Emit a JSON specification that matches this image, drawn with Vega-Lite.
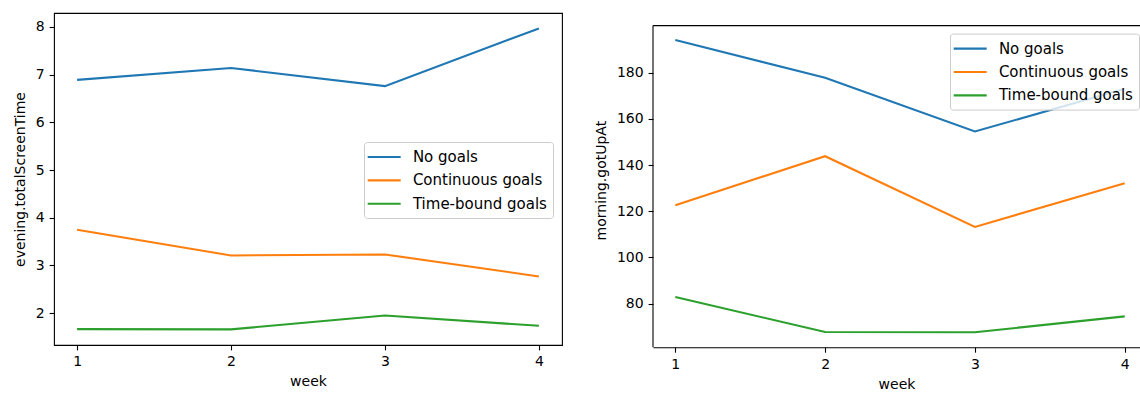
{
  "$schema": "https://vega.github.io/schema/vega-lite/v6.json",
  "padding": {"left": 12, "top": 12, "right": 0, "bottom": 0},
  "background": "white",
  "config": {
    "font": "DejaVu Sans",
    "axis": {
      "labelFont": "DejaVu Sans", "labelFontSize": 14, "labelColor": "#000",
      "titleFont": "DejaVu Sans", "titleFontSize": 14, "titleFontWeight": "normal", "titleColor": "#000",
      "tickColor": "#000", "tickWidth": 1.1, "tickSize": 4.9, "labelPadding": 4.9,
      "domainColor": "#000", "domainWidth": 1.1, "grid": false
    },
    "view": {"stroke": "#000", "strokeWidth": 1.1},
    "legend": {
      "title": null,
      "symbolType": "M-1.37,0H2.63",
      "symbolSize": 272,
      "symbolStrokeWidth": 2.1,
      "labelFont": "DejaVu Sans", "labelFontSize": 15, "labelColor": "#000",
      "labelOffset": 24.4, "rowPadding": 5.4, "padding": 5.5,
      "fillColor": "rgba(255,255,255,0.8)", "strokeColor": "#cccccc", "cornerRadius": 3
    }
  },
  "datasets": {
    "weekly": [
      {"week": 1, "group": "No goals", "screenTime": 6.89, "gotUpAt": 194.1},
      {"week": 2, "group": "No goals", "screenTime": 7.14, "gotUpAt": 177.8},
      {"week": 3, "group": "No goals", "screenTime": 6.76, "gotUpAt": 154.5},
      {"week": 4, "group": "No goals", "screenTime": 7.97, "gotUpAt": 173.0},
      {"week": 1, "group": "Continuous goals", "screenTime": 3.75, "gotUpAt": 122.6},
      {"week": 2, "group": "Continuous goals", "screenTime": 3.21, "gotUpAt": 143.8},
      {"week": 3, "group": "Continuous goals", "screenTime": 3.23, "gotUpAt": 113.2},
      {"week": 4, "group": "Continuous goals", "screenTime": 2.77, "gotUpAt": 132.1},
      {"week": 1, "group": "Time-bound goals", "screenTime": 1.665, "gotUpAt": 82.9},
      {"week": 2, "group": "Time-bound goals", "screenTime": 1.66, "gotUpAt": 67.7},
      {"week": 3, "group": "Time-bound goals", "screenTime": 1.95, "gotUpAt": 67.6},
      {"week": 4, "group": "Time-bound goals", "screenTime": 1.735, "gotUpAt": 74.5}
    ]
  },
  "spacing": 31,
  "resolve": {"scale": {"color": "independent"}, "legend": {"color": "independent"}},
  "hconcat": [
    {
      "width": 508,
      "height": 332,
      "data": {"name": "weekly"},
      "mark": {"type": "line", "strokeWidth": 2.1},
      "encoding": {
        "x": {
          "field": "week", "type": "quantitative",
          "scale": {"domain": [0.85, 4.15], "nice": false, "zero": false},
          "axis": {"values": [1, 2, 3, 4], "format": "d", "title": "week", "titlePadding": 6, "domain": false}
        },
        "y": {
          "field": "screenTime", "type": "quantitative",
          "scale": {"domain": [1.332, 8.293], "nice": false, "zero": false},
          "axis": {"values": [2, 3, 4, 5, 6, 7, 8], "title": "evening.totalScreenTime", "titlePadding": 8, "domain": false}
        },
        "color": {
          "field": "group", "type": "nominal",
          "scale": {"domain": ["No goals", "Continuous goals", "Time-bound goals"], "range": ["#1f77b4", "#ff7f0e", "#2ca02c"]},
          "legend": {"orient": "none", "legendX": 310, "legendY": 129}
        }
      }
    },
    {
      "width": 487,
      "height": 334.3,
      "view": {"stroke": null},
      "layer": [
        {
          "data": {"name": "weekly"},
          "mark": {"type": "line", "strokeWidth": 2.1},
          "encoding": {
            "x": {
              "field": "week", "type": "quantitative",
              "scale": {"domain": [0.851, 4.102], "nice": false, "zero": false},
              "axis": {"values": [1, 2, 3, 4], "format": "d", "title": "week", "titlePadding": 6}
            },
            "y": {
              "field": "gotUpAt", "type": "quantitative",
              "scale": {"domain": [61.1, 205.8], "nice": false, "zero": false},
              "axis": {"values": [80, 100, 120, 140, 160, 180], "title": "morning.gotUpAt", "titlePadding": 8, "domain": false}
            },
            "color": {
              "field": "group", "type": "nominal",
              "scale": {"domain": ["No goals", "Continuous goals", "Time-bound goals"], "range": ["#1f77b4", "#ff7f0e", "#2ca02c"]},
              "legend": {"orient": "none", "legendX": 297, "legendY": 20.6}
            }
          }
        },
        {
          "description": "left spine of the axes box",
          "data": {"values": [{}]},
          "mark": {"type": "rule", "color": "#000", "strokeWidth": 1.1},
          "encoding": {
            "x": {"datum": 0.851, "type": "quantitative"},
            "y": {"datum": 61.1, "type": "quantitative"},
            "y2": {"datum": 200.35}
          }
        },
        {
          "description": "top spine of the axes box",
          "data": {"values": [{}]},
          "mark": {"type": "rule", "color": "#000", "strokeWidth": 1.1},
          "encoding": {
            "x": {"datum": 0.851, "type": "quantitative"},
            "x2": {"datum": 4.102},
            "y": {"datum": 200.35, "type": "quantitative"}
          }
        }
      ]
    }
  ]
}
